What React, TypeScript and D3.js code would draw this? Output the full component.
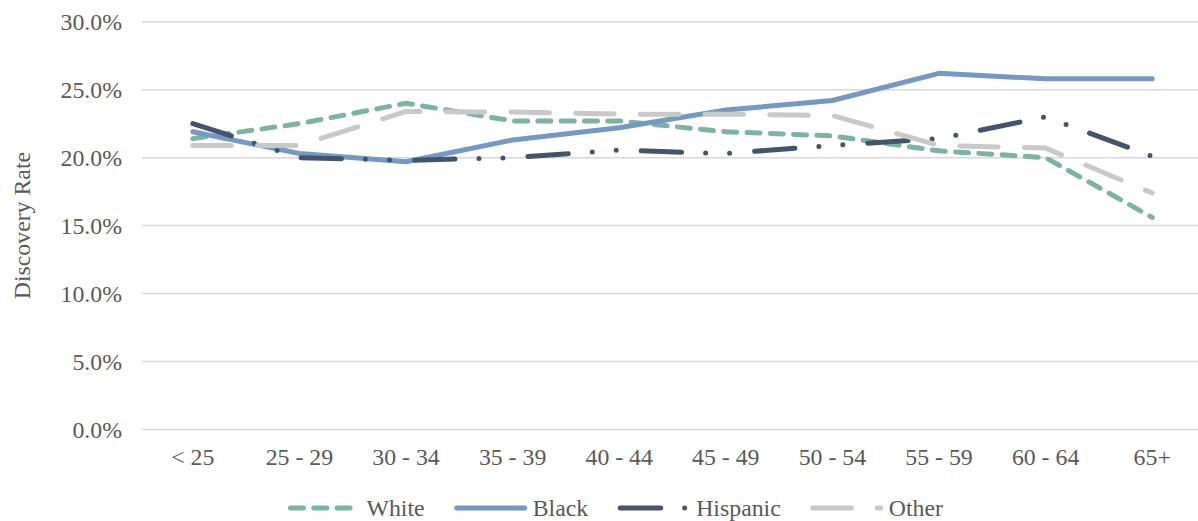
import { useEffect, useRef } from 'react'
import * as d3 from 'd3'

const categories = ['< 25', '25 - 29', '30 - 34', '35 - 39', '40 - 44', '45 - 49', '50 - 54', '55 - 59', '60 - 64', '65+']
const white = [21.4, 22.5, 24.0, 22.7, 22.7, 21.9, 21.6, 20.5, 20.0, 15.6]
const black = [21.9, 20.3, 19.7, 21.3, 22.2, 23.5, 24.2, 26.2, 25.8, 25.8]
const hispanic = [22.5, 20.0, 19.8, 20.0, 20.55, 20.3, 20.9, 21.4, 23.0, 20.1]
const other = [20.9, 20.9, 23.4, 23.35, 23.2, 23.2, 23.1, 20.9, 20.7, 17.4]
const yTicks = [0, 5, 10, 15, 20, 25, 30]

const App = () => {
  const svgRef = useRef<SVGSVGElement>(null)

  useEffect(() => {
    const W = 1198
    const font = '"Liberation Serif", "Times New Roman", serif'
    const fontSize = 23.8
    const textColor = '#595959'

    const svg = d3.select(svgRef.current)
    svg.selectAll('*').remove()

    //Series with their look, same order as legend
    const series = [
      { name: 'White', values: white, color: '#7DB4A0', dash: '13 10.3' },
      { name: 'Black', values: black, color: '#7399C4', dash: null },
      { name: 'Hispanic', values: hispanic, color: '#44546A', dash: '40.5 24 0 24 0 25' },
      { name: 'Other', values: other, color: '#C9C9C9', dash: '38.5 26.2' }
    ]

    const x = d3.scalePoint<string>()
      .domain(categories)
      .range([139.5, 1205.5])
      .padding(0.5)

    const y = d3.scaleLinear()
      .domain([0, 30])
      .range([429.5, 21.7])

    //Gridlines
    svg.append('g')
      .selectAll('line')
      .data(yTicks)
      .enter()
      .append('line')
      .attr('x1', 142)
      .attr('x2', W)
      .attr('y1', d => y(d))
      .attr('y2', d => y(d))
      .attr('stroke', '#D9D9D9')
      .attr('stroke-width', 1.5)

    //Y tick labels
    svg.append('g')
      .selectAll('text')
      .data(yTicks)
      .enter()
      .append('text')
      .attr('x', 122)
      .attr('y', d => y(d))
      .attr('dy', '0.35em')
      .attr('text-anchor', 'end')
      .attr('font-family', font)
      .attr('font-size', fontSize)
      .attr('fill', textColor)
      .text(d => d3.format('.1f')(d) + '%')

    //X tick labels
    svg.append('g')
      .selectAll('text')
      .data(categories)
      .enter()
      .append('text')
      .attr('x', d => x(d) as number)
      .attr('y', 465)
      .attr('text-anchor', 'middle')
      .attr('font-family', font)
      .attr('font-size', fontSize)
      .attr('fill', textColor)
      .text(d => d)

    //Axis title
    svg.append('text')
      .attr('transform', `translate(30, ${(y(0) + y(30)) / 2}) rotate(-90)`)
      .attr('text-anchor', 'middle')
      .attr('font-family', font)
      .attr('font-size', fontSize)
      .attr('fill', textColor)
      .text('Discovery Rate')

    const line = d3.line<number>()
      .x((d, i) => x(categories[i]) as number)
      .y(d => y(d))

    series.forEach(s => {
      svg.append('path')
        .datum(s.values)
        .attr('fill', 'none')
        .attr('stroke', s.color)
        .attr('stroke-width', 5)
        .attr('stroke-linecap', 'round')
        .attr('stroke-linejoin', 'round')
        .attr('stroke-dasharray', s.dash)
        .attr('d', line)
    })

    //Legend
    const legendY = 508
    let lx = 290.5
    series.forEach(s => {
      const g = svg.append('g')
      g.append('path')
        .attr('d', `M${lx},${legendY}H${lx + 68}`)
        .attr('fill', 'none')
        .attr('stroke', s.color)
        .attr('stroke-width', 5)
        .attr('stroke-linecap', 'round')
        .attr('stroke-dasharray', s.dash)
      const t = g.append('text')
        .attr('x', lx + 76)
        .attr('y', legendY)
        .attr('dy', '0.35em')
        .attr('font-family', font)
        .attr('font-size', fontSize)
        .attr('fill', textColor)
        .text(s.name)
      const tw = (t.node() as SVGTextElement).getComputedTextLength()
      lx = lx + 76 + tw + 32
    })
  }, [])

  return (
    <svg
      ref={svgRef}
      width={1198}
      height={521}
      style={{ position: 'absolute', left: 0, top: 0, background: '#fff' }}
    />
  )
}

export default App
